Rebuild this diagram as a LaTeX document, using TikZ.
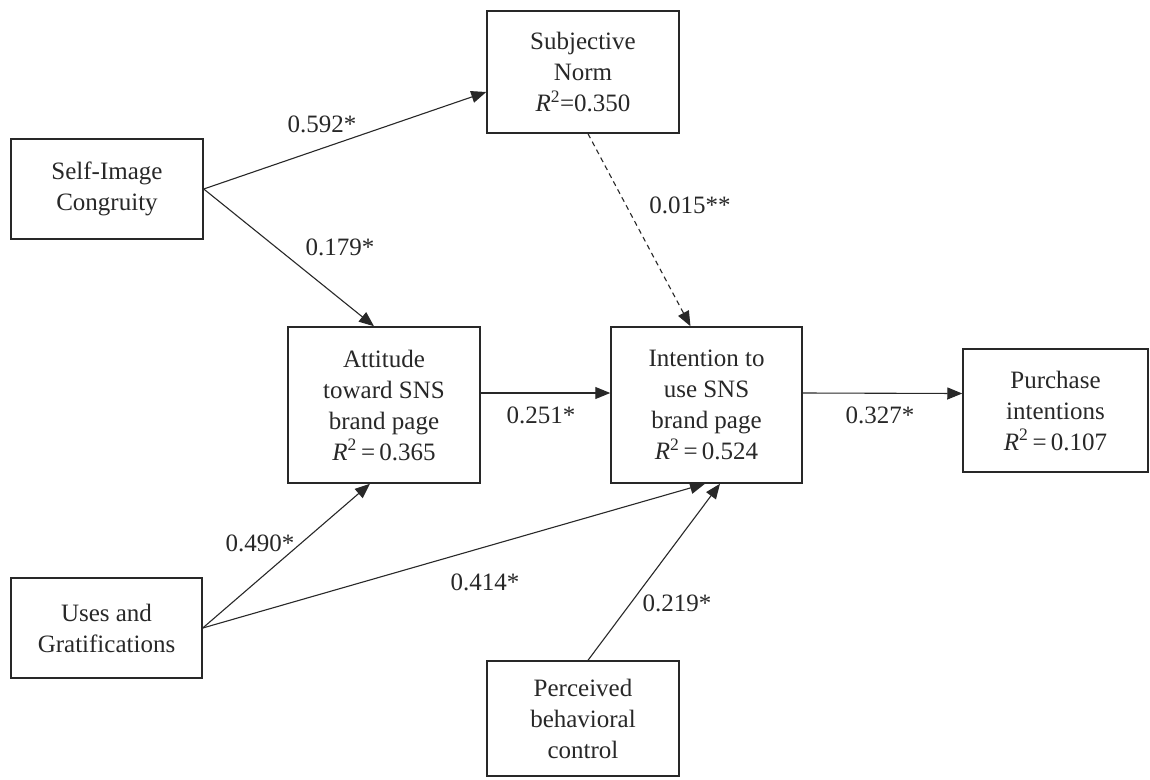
\documentclass[tikz,border=0pt]{standalone}
\usepackage{fontspec}
\setmainfont{Liberation Serif}
\usetikzlibrary{arrows.meta}
\definecolor{ink}{RGB}{40,40,40}
\begin{document}
\begin{tikzpicture}[x=1pt,y=-1pt,
  box/.style={draw=ink, text=ink, line width=1.5pt, align=center, inner sep=0pt,
    font=\fontsize{25}{31}\selectfont},
  arr/.style={draw=ink, line width=1.1pt, -{Triangle[length=15pt,width=12pt]}},
  lbl/.style={text=ink, inner sep=0pt, font=\fontsize{25}{31}\selectfont}]
\useasboundingbox (0,0) rectangle (1150,779);
\fill[white] (0,0) rectangle (1150,779);
% boxes
\node[box, minimum width=192pt, minimum height=122pt] (sn) at (583,72)
  {Subjective\\Norm\\\textit{R}\textsuperscript{2}=0.350};
\node[box, minimum width=192pt, minimum height=100pt] (sic) at (107,189)
  {Self-Image\\Congruity};
\node[box, minimum width=192pt, minimum height=156pt] (att) at (384,405)
  {Attitude\\toward SNS\\brand page\\\textit{R}\textsuperscript{2}\,=\,0.365};
\node[box, minimum width=191pt, minimum height=156pt] (int) at (706.5,405)
  {Intention to\\use SNS\\brand page\\\textit{R}\textsuperscript{2}\,=\,0.524};
\node[box, minimum width=185pt, minimum height=123pt] (pi) at (1055.5,410.5)
  {Purchase\\intentions\\\textit{R}\textsuperscript{2}\,=\,0.107};
\node[box, minimum width=191pt, minimum height=100pt] (ug) at (106.5,628)
  {Uses and\\Gratifications};
\node[box, minimum width=192pt, minimum height=115pt] (pbc) at (583,718.5)
  {Perceived\\behavioral\\control};
% connectors
\draw[arr] (sic.east) -- ([yshift=-20pt]sn.west);
\draw[arr] (sic.east) -- ([xshift=-10pt]att.north);
\draw[arr, dash pattern=on 5pt off 4pt] ([xshift=5pt]sn.south) -- ([xshift=-16pt]int.north);
\draw[arr] ([yshift=12pt]att.east) -- ([yshift=12pt]int.west);
\draw[arr] ([yshift=12pt]int.east) -- ([yshift=17pt]pi.west);
\draw[arr] (ug.east) -- ([xshift=-14pt]att.south);
\draw[arr] (ug.east) -- ([xshift=-1.5pt]int.south);
\draw[arr] ([xshift=5pt]pbc.north) -- ([xshift=13.5pt]int.south);
% labels
\node[lbl] (l1) at (322,124) {0.592*};
\node[lbl] (l2) at (340,247) {0.179*};
\node[lbl] (l3) at (690,205) {0.015**};
\node[lbl] (l4) at (541,415) {0.251*};
\node[lbl] (l5) at (880,415) {0.327*};
\node[lbl] (l6) at (260,543) {0.490*};
\node[lbl] (l7) at (485,582) {0.414*};
\node[lbl] (l8) at (677,603) {0.219*};
\end{tikzpicture}
\end{document}
